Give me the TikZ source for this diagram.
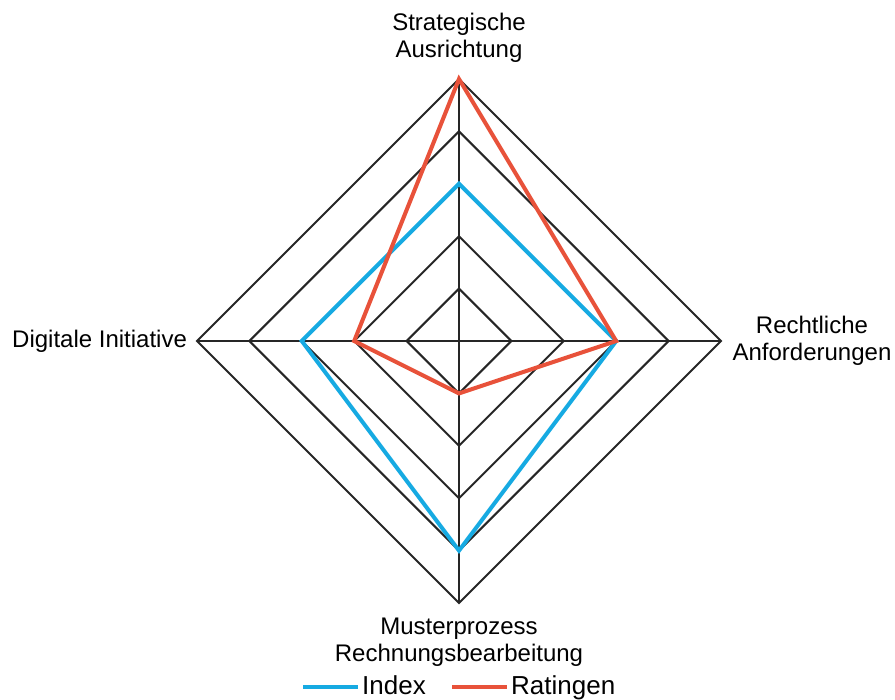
\documentclass[tikz,border=0pt]{standalone}
\usepackage{fontspec}
\setmainfont{Liberation Sans}
\usetikzlibrary{calc}
\begin{document}
\begin{tikzpicture}[x=1pt,y=-1pt,
  grid/.style={draw=black!85,line width=2pt,line join=miter},
  idx/.style={line width=4pt,line join=miter},
  rat/.style={line width=4pt,line join=miter},
  lbl/.style={font=\fontsize{24}{27}\selectfont,align=center,inner sep=0pt},
  leg/.style={font=\fontsize{26}{28}\selectfont,inner sep=0pt,anchor=base west}]
\definecolor{idxc}{RGB}{22,170,226}
\definecolor{ratc}{RGB}{232,82,58}
\tikzset{idx/.append style={draw=idxc},rat/.append style={draw=ratc}}
\useasboundingbox (0,0) rectangle (895,700);
\coordinate (C) at (459,341);
\def\st{52.4}
% rings
\foreach \k in {1,...,5}{
  \draw[grid] ($(C)+(0,-\k*\st)$) -- ($(C)+(\k*\st,0)$) -- ($(C)+(0,\k*\st)$) -- ($(C)+(-\k*\st,0)$) -- cycle;
}
\coordinate (T) at (459,79);
\coordinate (Rr) at (721,341);
\coordinate (B) at (459,603);
\coordinate (L) at (197,341);
\draw[grid] (T) -- (B);
\draw[grid] (L) -- (Rr);
% index
\coordinate (i1) at ($(C)+(0,-3*\st)$);
\coordinate (i2) at ($(C)+(3*\st,0)$);
\coordinate (i3) at ($(C)+(0,4*\st)$);
\coordinate (i4) at ($(C)+(-3*\st,0)$);
\draw[idx] (i1) -- (i2) -- (i3) -- (i4) -- cycle;
% ratings
\coordinate (r1) at ($(C)+(0,-5*\st)$);
\coordinate (r2) at ($(C)+(3*\st,0)$);
\coordinate (r3) at ($(C)+(0,1*\st)$);
\coordinate (r4) at ($(C)+(-2*\st,0)$);
\draw[rat] (r1) -- (r2) -- (r3) -- (r4) -- cycle;
% labels
\node[lbl] (lt) at (459,38) {Strategische\\Ausrichtung};
\node[lbl] (lr) at (812,341) {Rechtliche\\Anforderungen};
\node[lbl,anchor=west] (ll) at (12,341) {Digitale Initiative};
\node[lbl] (lb) at (459,642) {Musterprozess\\Rechnungsbearbeitung};
% legend
\coordinate (a1) at (303,687);
\coordinate (a2) at (358,687);
\draw[idx,line width=4.5pt] (a1) -- (a2);
\node[leg] (li) at (362,694) {Index};
\coordinate (b1) at (452,687);
\coordinate (b2) at (507,687);
\draw[rat,line width=4.5pt] (b1) -- (b2);
\node[leg] (lr2) at (511,694) {Ratingen};
\end{tikzpicture}
\end{document}
